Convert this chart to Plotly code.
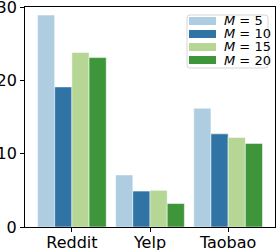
import plotly.graph_objects as go

categories = ["Reddit", "Yelp", "Taobao"]
series_names = ["<i>M</i> = 5", "<i>M</i> = 10", "<i>M</i> = 15", "<i>M</i> = 20"]
m5 = [28.9, 7.1, 16.2]
m10 = [19.1, 4.9, 12.7]
m15 = [23.8, 5.0, 12.2]
m20 = [23.1, 3.2, 11.4]
colors = ["#aecde0", "#2f74a4", "#b5d695", "#3f963a"]
y_ticks = [0, 10, 20, 30]

W, H = 277, 250
ML, MR, MT, MB = 25, 2, 7, 23
PW, PH = W - ML - MR, H - MT - MB


def px(x):
    return (x - ML) / PW


def py(y):
    return (H - MB - y) / PH


values = [m5, m10, m15, m20]
fig = go.Figure()
for name, vals, col in zip(series_names, values, colors):
    fig.add_trace(go.Bar(
        x=categories, y=vals, name=name, showlegend=False,
        marker=dict(color=col, line=dict(color="rgba(255,255,255,0.5)", width=1)),
    ))

# custom legend (matplotlib-like)
shapes = []
annotations = []
x0, x1, y0, y1, r = 187, 268, 15, 68, 3
path = (f"M {px(x0 + r)} {py(y0)} L {px(x1 - r)} {py(y0)} Q {px(x1)} {py(y0)} {px(x1)} {py(y0 + r)} "
        f"L {px(x1)} {py(y1 - r)} Q {px(x1)} {py(y1)} {px(x1 - r)} {py(y1)} "
        f"L {px(x0 + r)} {py(y1)} Q {px(x0)} {py(y1)} {px(x0)} {py(y1 - r)} "
        f"L {px(x0)} {py(y0 + r)} Q {px(x0)} {py(y0)} {px(x0 + r)} {py(y0)} Z")
shapes.append(dict(type="path", xref="paper", yref="paper", path=path,
                   fillcolor="rgba(255,255,255,0.8)", line=dict(color="#d6d6d6", width=1)))
row_centers = [21, 34, 47, 60]
for name, col, cy in zip(series_names, colors, row_centers):
    shapes.append(dict(type="rect", xref="paper", yref="paper",
                       x0=px(189), x1=px(216), y0=py(cy + 4), y1=py(cy - 4),
                       fillcolor=col, line=dict(width=0)))
    annotations.append(dict(xref="paper", yref="paper", x=px(222), y=py(cy),
                            xanchor="left", yanchor="middle", showarrow=False,
                            text=name, font=dict(size=13, color="black")))

fig.update_layout(
    width=W, height=H,
    margin=dict(l=ML, r=MR, t=MT, b=MB),
    paper_bgcolor="white", plot_bgcolor="white",
    barmode="group", bargap=0.12, bargroupgap=0,
    font=dict(family="DejaVu Sans", size=16, color="black"),
    showlegend=False,
    shapes=shapes, annotations=annotations,
)
fig.update_xaxes(
    range=[-0.6, 2.6], showline=True, linecolor="black", linewidth=1, mirror=True,
    ticks="outside", ticklen=4, tickcolor="black", showgrid=False, automargin=False,
    ticklabeloverflow="allow", ticklabelstandoff=-3,
)
fig.update_yaxes(
    range=[0, 30], tickvals=y_ticks, showline=True, linecolor="black", linewidth=1,
    mirror=True, ticks="outside", ticklen=4, tickcolor="black", showgrid=False,
    zeroline=False, automargin=False, ticklabeloverflow="allow",
)
fig.write_html(
    "out.html",
    config={"displayModeBar": False, "staticPlot": True},
    post_script="document.body.style.margin='0';document.body.style.overflow='hidden';",
)
